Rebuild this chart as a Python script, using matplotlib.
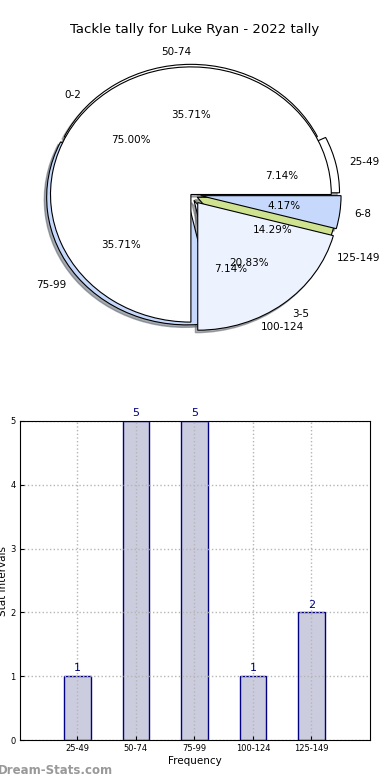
import matplotlib.pyplot as plt
import numpy as np

# datos del grafico
tackle_bins = ['25-49', '50-74', '75-99', '100-124', '125-149']
tackle_counts = [1, 5, 5, 1, 2]
other_bins = ['0-2', '3-5', '6-8']
other_counts = [18, 5, 1]

pie_colors = ['#ffffff', '#ffffff', '#c6d9fd', '#edf3fe', '#cfe28f']
other_colors = ['#ffffff', '#edf3fe', '#c6d9fd']
tackle_explode = [0.06, 0.02, 0.035, 0.05, 0.05]
other_explode = [0.0, 0.08, 0.07]

fig = plt.figure(figsize=(3.9, 7.8), dpi=100)

# --- pie (two pies drawn on the same axes) ---
shadow = {'ox': -0.012, 'oy': -0.014, 'shade': 0.6}
ax1 = fig.add_axes([15.4 / 390, 426 / 780, 351 / 390, 319 / 780])
w1, t1, a1 = ax1.pie(tackle_counts, labels=tackle_bins, colors=pie_colors,
                     explode=tackle_explode, autopct='%1.2f%%', shadow=shadow,
                     textprops={'fontsize': 7.5})
w2, t2, a2 = ax1.pie(other_counts, labels=other_bins, colors=other_colors,
                     explode=other_explode, autopct='%1.2f%%', shadow=shadow,
                     textprops={'fontsize': 7.5})
for w in list(w1) + list(w2):
    w.set_edgecolor('black')
    w.set_linewidth(0.8)
t1[1].set_ha('right')
ax1.set_aspect('auto')
ax1.set_xlim(-1.25, 1.25)
ax1.set_ylim(-1.25, 1.25)

fig.text(194.5 / 390, 1 - 30 / 780, 'Tackle tally for Luke Ryan - 2022 tally',
         ha='center', va='center', fontsize=9.5)

# --- bar chart ---
ax2 = fig.add_axes([20 / 390, 40 / 780, 350 / 390, 319 / 780])
x = np.arange(len(tackle_counts))
rects = ax2.bar(x, tackle_counts, 0.45, color='#ccccdf', edgecolor='navy',
                linewidth=1.0, zorder=1)
ax2.set_xlim(-0.98, 5.0)
ax2.set_ylim(0, 5)
ax2.set_xticks(x)
ax2.set_xticklabels(tackle_bins, fontsize=6)
ax2.set_yticks(range(6))
ax2.tick_params(axis='y', labelsize=6)
ax2.tick_params(direction='in', length=3, pad=3)
ax2.grid(True, linestyle=':', color='#b5b5b5', linewidth=1.0, zorder=2)
ax2.set_axisbelow(False)
for sp in ax2.spines.values():
    sp.set_zorder(4)
ax2.set_xlabel('Frequency', fontsize=7.5, labelpad=2)
ax2.set_ylabel('Stat Intervals', fontsize=7.5, labelpad=2)

for rect in rects:
    height = rect.get_height()
    ax2.annotate('{}'.format(height),
                 xy=(rect.get_x() + rect.get_width() / 2, height),
                 xytext=(0, 2), textcoords='offset points',
                 ha='center', va='bottom', color='navy', fontsize=8,
                 annotation_clip=False)

fig.text(-2 / 390, 1 - 770 / 780, 'Dream-Stats.com', color='#999999',
         fontsize=8.5, fontweight='bold', ha='left', va='center')

plt.savefig('out.png', dpi=100)
plt.close(fig)
